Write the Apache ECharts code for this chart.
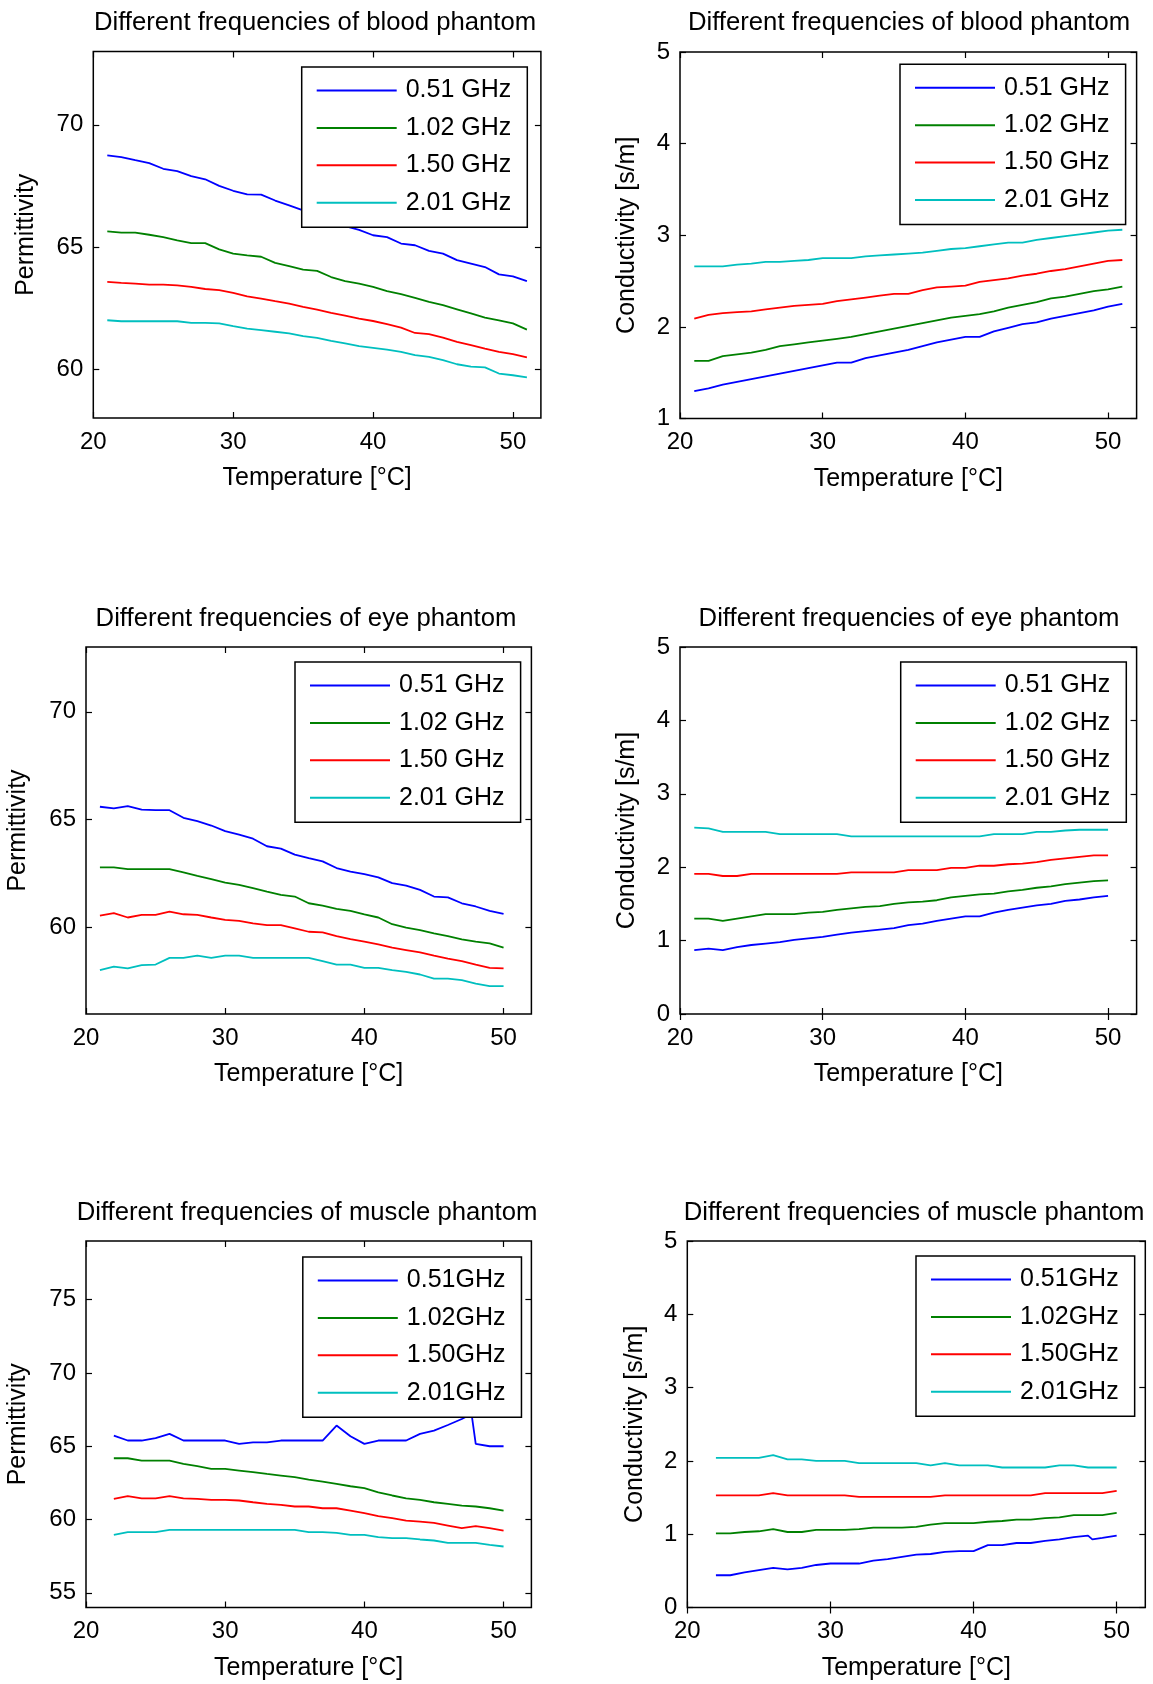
<!DOCTYPE html>
<html><head><meta charset="utf-8">
<script src="https://cdn.jsdelivr.net/npm/echarts@6/dist/echarts.min.js"></script>
<style>html,body{margin:0;padding:0;background:#fff}#c{width:1153px;height:1684px}</style>
</head><body><div id="c"></div>
<script>
// ---------- DATA ----------
const legendNamesSpaced = ['0.51 GHz', '1.02 GHz', '1.50 GHz', '2.01 GHz'];
const legendNamesCompact = ['0.51GHz', '1.02GHz', '1.50GHz', '2.01GHz'];
const xTicks = [20, 30, 40, 50];
const permTicksBloodEye = [60, 65, 70];
const permTicksMuscle = [55, 60, 65, 70, 75];
const condTicksBlood = [1, 2, 3, 4, 5];
const condTicks = [0, 1, 2, 3, 4, 5];

// Blood phantom (21..51 °C)
const bloodTemps = [21,22,23,24,25,26,27,28,29,30,31,32,33,34,35,36,37,38,39,40,41,42,43,44,45,46,47,48,49,50,51];
const bloodPerm051 = [68.75,68.68,68.55,68.43,68.2,68.1,67.9,67.77,67.5,67.3,67.15,67.14,66.9,66.7,66.5,66.25,66.05,65.85,65.7,65.48,65.4,65.14,65.07,64.84,64.73,64.46,64.32,64.18,63.88,63.8,63.6];
const bloodPerm102 = [65.64,65.59,65.59,65.5,65.4,65.27,65.16,65.16,64.9,64.73,64.66,64.6,64.35,64.22,64.07,64.02,63.77,63.6,63.5,63.37,63.19,63.07,62.92,62.75,62.62,62.45,62.28,62.11,62.0,61.87,61.62];
const bloodPerm150 = [63.57,63.53,63.5,63.46,63.46,63.43,63.37,63.28,63.23,63.12,62.98,62.89,62.78,62.68,62.55,62.44,62.3,62.19,62.07,61.97,61.84,61.7,61.48,61.43,61.29,61.12,60.98,60.84,60.71,60.61,60.48];
const bloodPerm201 = [62.0,61.96,61.96,61.96,61.96,61.96,61.89,61.89,61.87,61.76,61.66,61.6,61.53,61.46,61.35,61.28,61.16,61.05,60.94,60.87,60.8,60.71,60.57,60.5,60.37,60.2,60.1,60.07,59.82,59.75,59.66];
const bloodCond051 = [1.30,1.33,1.37,1.40,1.43,1.46,1.49,1.52,1.55,1.58,1.61,1.61,1.66,1.69,1.72,1.75,1.79,1.83,1.86,1.89,1.89,1.95,1.99,2.03,2.05,2.09,2.12,2.15,2.18,2.22,2.25];
const bloodCond102 = [1.63,1.63,1.68,1.70,1.72,1.75,1.79,1.81,1.83,1.85,1.87,1.89,1.92,1.95,1.98,2.01,2.04,2.07,2.10,2.12,2.14,2.17,2.21,2.24,2.27,2.31,2.33,2.36,2.39,2.41,2.44];
const bloodCond150 = [2.09,2.13,2.15,2.16,2.17,2.19,2.21,2.23,2.24,2.25,2.28,2.30,2.32,2.34,2.36,2.36,2.40,2.43,2.44,2.45,2.49,2.51,2.53,2.56,2.58,2.61,2.63,2.66,2.69,2.72,2.73];
const bloodCond201 = [2.66,2.66,2.66,2.68,2.69,2.71,2.71,2.72,2.73,2.75,2.75,2.75,2.77,2.78,2.79,2.80,2.81,2.83,2.85,2.86,2.88,2.90,2.92,2.92,2.95,2.97,2.99,3.01,3.03,3.05,3.06];

// Eye phantom (21..50 °C)
const eyeTemps = [21,22,23,24,25,26,27,28,29,30,31,32,33,34,35,36,37,38,39,40,41,42,43,44,45,46,47,48,49,50];
const eyePerm051 = [65.6,65.52,65.63,65.47,65.44,65.44,65.09,64.93,64.73,64.47,64.31,64.12,63.77,63.66,63.38,63.22,63.07,62.76,62.6,62.48,62.33,62.06,61.95,61.75,61.44,61.4,61.13,60.98,60.78,60.64];
const eyePerm102 = [62.79,62.79,62.71,62.71,62.71,62.71,62.56,62.4,62.25,62.09,61.98,61.83,61.67,61.52,61.44,61.13,61.02,60.87,60.78,60.62,60.47,60.16,60.0,59.89,59.74,59.61,59.46,59.35,59.27,59.07];
const eyePerm150 = [60.56,60.67,60.47,60.59,60.59,60.74,60.62,60.59,60.47,60.36,60.31,60.2,60.12,60.12,59.97,59.81,59.78,59.61,59.47,59.35,59.22,59.07,58.96,58.85,58.7,58.57,58.45,58.29,58.14,58.11];
const eyePerm201 = [58.03,58.19,58.11,58.26,58.29,58.6,58.6,58.7,58.6,58.7,58.7,58.6,58.6,58.6,58.6,58.6,58.45,58.29,58.29,58.14,58.14,58.03,57.95,57.83,57.64,57.64,57.57,57.41,57.29,57.29];
const eyeCond051 = [0.87,0.89,0.87,0.91,0.94,0.96,0.98,1.01,1.03,1.05,1.08,1.11,1.13,1.15,1.17,1.21,1.23,1.27,1.30,1.33,1.33,1.38,1.42,1.45,1.48,1.50,1.54,1.56,1.59,1.61];
const eyeCond102 = [1.30,1.30,1.27,1.30,1.33,1.36,1.36,1.36,1.38,1.39,1.42,1.44,1.46,1.47,1.50,1.52,1.53,1.55,1.59,1.61,1.63,1.64,1.67,1.69,1.72,1.74,1.77,1.79,1.81,1.82];
const eyeCond150 = [1.91,1.91,1.88,1.88,1.91,1.91,1.91,1.91,1.91,1.91,1.91,1.93,1.93,1.93,1.93,1.96,1.96,1.96,1.99,1.99,2.02,2.02,2.04,2.05,2.07,2.10,2.12,2.14,2.16,2.16];
const eyeCond201 = [2.54,2.53,2.48,2.48,2.48,2.48,2.45,2.45,2.45,2.45,2.45,2.42,2.42,2.42,2.42,2.42,2.42,2.42,2.42,2.42,2.42,2.45,2.45,2.45,2.48,2.48,2.50,2.51,2.51,2.51];

// Muscle phantom (22..50 °C)
const muscleTemps = [22,23,24,25,26,27,28,29,30,31,32,33,34,35,36,37,38,39,40,41,42,43,44,45,46,47,48,49,50];
const musclePermTemps051 = [22,23,24,25,26,27,28,29,30,31,32,33,34,35,36,37,38,39,40,41,42,43,44,45,46,47,47.7,48,49,50];
const musclePerm051 = [65.73,65.39,65.39,65.55,65.84,65.39,65.39,65.39,65.39,65.16,65.27,65.27,65.39,65.39,65.39,65.39,66.41,65.68,65.16,65.39,65.39,65.39,65.84,66.07,66.45,66.86,67.2,65.16,65.0,65.0];
const musclePerm102 = [64.18,64.18,64.02,64.02,64.02,63.8,63.64,63.45,63.45,63.34,63.23,63.11,63.0,62.89,62.73,62.59,62.43,62.27,62.14,61.86,61.64,61.45,61.34,61.18,61.07,60.95,60.89,60.77,60.61];
const musclePerm150 = [61.41,61.59,61.45,61.45,61.59,61.45,61.41,61.34,61.34,61.3,61.18,61.07,61.0,60.89,60.89,60.77,60.77,60.61,60.43,60.23,60.09,59.93,59.86,59.77,59.59,59.41,59.55,59.41,59.25];
const musclePerm201 = [58.95,59.14,59.14,59.14,59.3,59.3,59.3,59.3,59.3,59.3,59.3,59.3,59.3,59.3,59.14,59.14,59.09,58.95,58.95,58.8,58.73,58.73,58.64,58.57,58.41,58.41,58.41,58.27,58.16];
const muscleCondTemps051 = [22,23,24,25,26,27,28,29,30,31,32,33,34,35,36,37,38,39,40,41,42,43,44,45,46,47,48,48.3,49,50];
const muscleCond051 = [0.44,0.44,0.48,0.51,0.54,0.52,0.54,0.58,0.60,0.60,0.60,0.64,0.66,0.69,0.72,0.73,0.76,0.77,0.77,0.85,0.85,0.88,0.88,0.91,0.93,0.96,0.98,0.93,0.95,0.98];
const muscleCond102 = [1.01,1.01,1.03,1.04,1.07,1.03,1.03,1.06,1.06,1.06,1.07,1.09,1.09,1.09,1.10,1.13,1.15,1.15,1.15,1.17,1.18,1.20,1.20,1.22,1.23,1.26,1.26,1.26,1.29];
const muscleCond150 = [1.53,1.53,1.53,1.53,1.56,1.53,1.53,1.53,1.53,1.53,1.51,1.51,1.51,1.51,1.51,1.51,1.53,1.53,1.53,1.53,1.53,1.53,1.53,1.56,1.56,1.56,1.56,1.56,1.59];
const muscleCond201 = [2.04,2.04,2.04,2.04,2.08,2.02,2.02,2.00,2.00,2.00,1.97,1.97,1.97,1.97,1.97,1.94,1.97,1.94,1.94,1.94,1.91,1.91,1.91,1.91,1.94,1.94,1.91,1.91,1.91];

// ---------- STYLE / LAYOUT ----------
const FONT = 'Liberation Sans';
const LINE_COLORS = ['#0000ff', '#008000', '#ff0000', '#00bfbf'];

const panels = [
  { title: 'Different frequencies of blood phantom', tx: 315, ty: 23,
    grid: { left: 93.3, top: 51.5, width: 447.6, height: 366.5 },
    ymin: 58, ymax: 73, yticks: permTicksBloodEye, yname: 'Permittivity', nameGap: 55,
    legend: { left: 301.7, top: 66 }, names: legendNamesSpaced,
    lines: [[bloodTemps, bloodPerm051], [bloodTemps, bloodPerm102], [bloodTemps, bloodPerm150], [bloodTemps, bloodPerm201]] },
  { title: 'Different frequencies of blood phantom', tx: 909, ty: 23,
    grid: { left: 680, top: 52, width: 456.6, height: 366.5 },
    ymin: 1, ymax: 5, yticks: condTicksBlood, yname: 'Conductivity [s/m]', nameGap: 40,
    legend: { left: 900, top: 63.3 }, names: legendNamesSpaced,
    lines: [[bloodTemps, bloodCond051], [bloodTemps, bloodCond102], [bloodTemps, bloodCond150], [bloodTemps, bloodCond201]] },
  { title: 'Different frequencies of eye phantom', tx: 306, ty: 619,
    grid: { left: 86, top: 647, width: 445.4, height: 367 },
    ymin: 56, ymax: 73, yticks: permTicksBloodEye, yname: 'Permittivity', nameGap: 55,
    legend: { left: 295, top: 661 }, names: legendNamesSpaced,
    lines: [[eyeTemps, eyePerm051], [eyeTemps, eyePerm102], [eyeTemps, eyePerm150], [eyeTemps, eyePerm201]] },
  { title: 'Different frequencies of eye phantom', tx: 909, ty: 619,
    grid: { left: 680, top: 647, width: 456.6, height: 367 },
    ymin: 0, ymax: 5, yticks: condTicks, yname: 'Conductivity [s/m]', nameGap: 40,
    legend: { left: 900.7, top: 661 }, names: legendNamesSpaced,
    lines: [[eyeTemps, eyeCond051], [eyeTemps, eyeCond102], [eyeTemps, eyeCond150], [eyeTemps, eyeCond201]] },
  { title: 'Different frequencies of muscle phantom', tx: 307, ty: 1213,
    grid: { left: 86, top: 1241, width: 445.4, height: 366.5 },
    ymin: 54, ymax: 79, yticks: permTicksMuscle, yname: 'Permittivity', nameGap: 55,
    legend: { left: 302.8, top: 1256 }, names: legendNamesCompact,
    lines: [[musclePermTemps051, musclePerm051], [muscleTemps, musclePerm102], [muscleTemps, musclePerm150], [muscleTemps, musclePerm201]] },
  { title: 'Different frequencies of muscle phantom', tx: 914, ty: 1213,
    grid: { left: 687.3, top: 1241, width: 458, height: 366.5 },
    ymin: 0, ymax: 5, yticks: condTicks, yname: 'Conductivity [s/m]', nameGap: 40,
    legend: { left: 916, top: 1255 }, names: legendNamesCompact,
    lines: [[muscleCondTemps051, muscleCond051], [muscleTemps, muscleCond102], [muscleTemps, muscleCond150], [muscleTemps, muscleCond201]] }
];

const option = { animation: false, backgroundColor: '#fff', grid: [], xAxis: [], yAxis: [], series: [], legend: [], graphic: [] };
const txt = (size) => ({ fontFamily: FONT, fontSize: size, color: '#000' });

panels.forEach((p, i) => {
  option.grid.push(Object.assign({ show: true, borderColor: '#000', borderWidth: 1.5, backgroundColor: '#fff', containLabel: false }, p.grid));
  const tick = (vals) => ({ show: true, inside: true, length: 6, lineStyle: { color: '#000', width: 1.2 }, customValues: vals });
  // bottom x axis
  option.xAxis.push({ type: 'value', gridIndex: i, min: 20, max: 52, position: 'bottom',
    axisLine: { show: false }, splitLine: { show: false }, axisTick: tick(xTicks),
    axisLabel: Object.assign({ margin: 12, customValues: xTicks }, txt(24)),
    name: 'Temperature [°C]', nameLocation: 'middle', nameGap: 48, nameTextStyle: txt(25) });
  // top x axis (ticks only)
  option.xAxis.push({ type: 'value', gridIndex: i, min: 20, max: 52, position: 'top',
    axisLine: { show: false }, splitLine: { show: false }, axisTick: tick(xTicks), axisLabel: { show: false } });
  // left y axis
  option.yAxis.push({ type: 'value', gridIndex: i, min: p.ymin, max: p.ymax, position: 'left',
    axisLine: { show: false }, splitLine: { show: false }, axisTick: tick(p.yticks),
    axisLabel: Object.assign({ margin: 10, customValues: p.yticks }, txt(24)),
    name: p.yname, nameLocation: 'middle', nameGap: p.nameGap, nameTextStyle: txt(25) });
  // right y axis (ticks only)
  option.yAxis.push({ type: 'value', gridIndex: i, min: p.ymin, max: p.ymax, position: 'right',
    axisLine: { show: false }, splitLine: { show: false }, axisTick: tick(p.yticks), axisLabel: { show: false } });

  p.lines.forEach((ln, k) => {
    const temps = ln[0], vals = ln[1];
    option.series.push({ type: 'line', name: p.names[k], xAxisIndex: 2 * i, yAxisIndex: 2 * i,
      data: temps.map((t, j) => [t, vals[j]]), symbol: 'none', showSymbol: false,
      color: LINE_COLORS[k], itemStyle: { color: LINE_COLORS[k] },
      lineStyle: { color: LINE_COLORS[k], width: 1.8 }, z: 2 });
  });

  option.legend.push({ orient: 'vertical', left: p.legend.left, top: p.legend.top + 1, data: p.names,
    icon: 'rect', itemWidth: 80, itemHeight: 2, itemGap: 12.4, padding: [11, 16, 12, 15],
    backgroundColor: '#fff', borderColor: '#000', borderWidth: 1.5, borderRadius: 0,
    selectedMode: false, textStyle: Object.assign({ padding: [0, 0, 0, 4] }, txt(25)), z: 10 });

  option.graphic.push({ type: 'text', x: p.tx, y: p.ty,
    style: { text: p.title, font: '25.7px "Liberation Sans"', fill: '#000', align: 'center', verticalAlign: 'middle', textAlign: 'center', textVerticalAlign: 'middle' } });
});

const chart = echarts.init(document.getElementById('c'), null, { renderer: 'canvas' });
chart.setOption(option);
</script></body></html>
